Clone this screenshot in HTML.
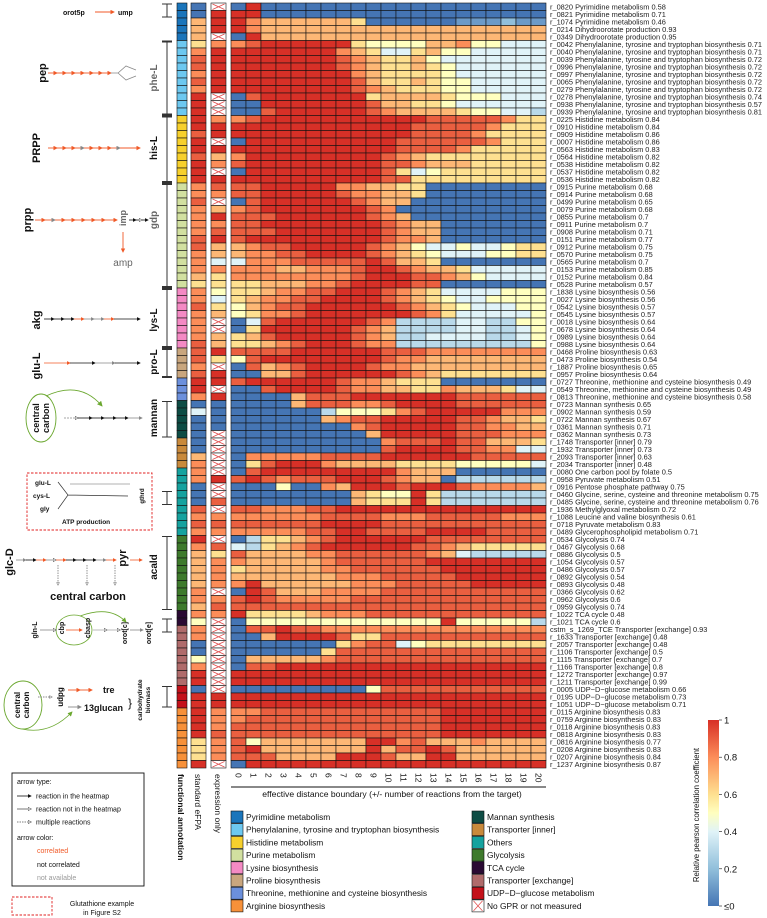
<!DOCTYPE html>
<html><head><meta charset="utf-8">
<style>
html,body{margin:0;padding:0;background:#fff;}
svg{display:block;font-family:"Liberation Sans",Arial,sans-serif;}
</style></head>
<body>
<svg id="fig" width="767" height="918" viewBox="0 0 767 918" xmlns="http://www.w3.org/2000/svg">
<defs>
<marker id="ao" markerWidth="5" markerHeight="5" refX="4" refY="2.5" orient="auto"><path d="M0,0 L5,2.5 L0,5 z" fill="#f05a28"/></marker>
<marker id="ak" markerWidth="5" markerHeight="5" refX="4" refY="2.5" orient="auto"><path d="M0,0 L5,2.5 L0,5 z" fill="#111"/></marker>
<marker id="ag" markerWidth="5" markerHeight="5" refX="4" refY="2.5" orient="auto"><path d="M0,0 L5,2.5 L0,5 z" fill="#888"/></marker>
<marker id="aw" markerWidth="5" markerHeight="5" refX="4" refY="2.5" orient="auto"><path d="M0.5,0.5 L4.5,2.5 L0.5,4.5 z" fill="#fff" stroke="#555" stroke-width="0.7"/></marker>
<marker id="agr" markerWidth="6" markerHeight="6" refX="5" refY="3" orient="auto"><path d="M0,0 L6,3 L0,6 z" fill="#6aa72e"/></marker>
<linearGradient id="cbar" x1="0" y1="1" x2="0" y2="0">
<stop offset="0" stop-color="#4575b4"/><stop offset="0.2" stop-color="#91bfdb"/><stop offset="0.4" stop-color="#e0f3f8"/><stop offset="0.5" stop-color="#ffffbf"/><stop offset="0.6" stop-color="#fee090"/><stop offset="0.8" stop-color="#fc8d59"/><stop offset="1" stop-color="#d73027"/>
</linearGradient>
</defs>
<g id="left" font-weight="bold" fill="#111">
  <text x="63" y="15" font-size="7">orot5p</text>
  <line x1="95" y1="12" x2="114" y2="12" stroke="#f05a28" stroke-width="0.9" marker-end="url(#ao)"/>
  <text x="118" y="15" font-size="7">ump</text>
  <text transform="translate(46,73) rotate(-90)" text-anchor="middle" font-size="11">pep</text>
  <g stroke="#f05a28" stroke-width="0.9"><line x1="48" y1="73" x2="57" y2="73" marker-end="url(#ao)"/><line x1="57" y1="73" x2="66" y2="73" marker-end="url(#ao)"/><line x1="66" y1="73" x2="75" y2="73" marker-end="url(#ao)"/><line x1="75" y1="73" x2="84" y2="73" marker-end="url(#ao)"/><line x1="84" y1="73" x2="93" y2="73" marker-end="url(#ao)"/><line x1="93" y1="73" x2="102" y2="73" marker-end="url(#ao)"/><line x1="102" y1="73" x2="111" y2="73" marker-end="url(#ao)"/></g>
  <path d="M111,73 L118,73 L126,66 L136,70 M118,73 L126,80 L136,76" fill="none" stroke="#888" stroke-width="0.8"/>
  <text transform="translate(157,78) rotate(-90)" text-anchor="middle" font-size="10" fill="#666">phe-L</text>
  <text transform="translate(40,148) rotate(-90)" text-anchor="middle" font-size="11">PRPP</text>
  <g stroke="#f05a28" stroke-width="0.9"><line x1="48" y1="148" x2="57" y2="148" marker-end="url(#ao)"/><line x1="57" y1="148" x2="66" y2="148" marker-end="url(#ao)"/><line x1="66" y1="148" x2="75" y2="148" marker-end="url(#ao)"/><line x1="75" y1="148" x2="84" y2="148" marker-end="url(#ag)"/><line x1="84" y1="148" x2="93" y2="148" marker-end="url(#ao)"/><line x1="93" y1="148" x2="102" y2="148" marker-end="url(#ao)"/><line x1="102" y1="148" x2="111" y2="148" marker-end="url(#ao)"/><line x1="111" y1="148" x2="120" y2="148" marker-end="url(#ag)"/><line x1="120" y1="148" x2="140" y2="148" marker-end="url(#ao)"/></g>
  <text transform="translate(157,148) rotate(-90)" text-anchor="middle" font-size="10">his-L</text>
  <text transform="translate(31,220) rotate(-90)" text-anchor="middle" font-size="11">prpp</text>
  <g stroke="#f05a28" stroke-width="0.9"><line x1="35" y1="220" x2="45" y2="220" marker-end="url(#ao)"/><line x1="45" y1="220" x2="55" y2="220" marker-end="url(#ag)"/><line x1="55" y1="220" x2="65" y2="220" marker-end="url(#ao)"/><line x1="65" y1="220" x2="75" y2="220" marker-end="url(#ao)"/><line x1="75" y1="220" x2="85" y2="220" marker-end="url(#ao)"/><line x1="85" y1="220" x2="95" y2="220" marker-end="url(#ao)"/><line x1="95" y1="220" x2="105" y2="220" marker-end="url(#ao)"/><line x1="105" y1="220" x2="117" y2="220" marker-end="url(#ao)"/><line x1="123" y1="232" x2="123" y2="252" marker-end="url(#ao)"/></g>
  <text transform="translate(126,218) rotate(-90)" text-anchor="middle" font-size="9" fill="#666">imp</text>
  <g stroke="#111" stroke-width="0.8"><line x1="129" y1="220" x2="136" y2="220" marker-end="url(#ak)"/><line x1="136" y1="220" x2="142" y2="220" marker-end="url(#aw)"/><line x1="142" y1="220" x2="148" y2="220" marker-end="url(#ak)"/></g>
  <text transform="translate(157,220) rotate(-90)" text-anchor="middle" font-size="10" fill="#666">gdp</text>
  <text x="123" y="266" text-anchor="middle" font-size="10" fill="#666" font-weight="normal">amp</text>
  <text transform="translate(40,320) rotate(-90)" text-anchor="middle" font-size="11">akg</text>
  <g stroke="#111" stroke-width="0.8"><line x1="44" y1="319" x2="54" y2="319" marker-end="url(#ak)"/><line x1="54" y1="319" x2="64" y2="319" marker-end="url(#ak)"/><line x1="64" y1="319" x2="74" y2="319" marker-end="url(#ak)"/><line x1="74" y1="319" x2="84" y2="319" stroke="#f05a28" marker-end="url(#ao)"/><line x1="84" y1="319" x2="94" y2="319" stroke="#888" marker-end="url(#ag)"/><line x1="94" y1="319" x2="104" y2="319" stroke="#888" marker-end="url(#ag)"/><line x1="104" y1="319" x2="114" y2="319" stroke="#f05a28" marker-end="url(#ao)"/><line x1="114" y1="319" x2="140" y2="319" marker-end="url(#ak)"/></g>
  <text transform="translate(157,320) rotate(-90)" text-anchor="middle" font-size="10">lys-L</text>
  <text transform="translate(40,366) rotate(-90)" text-anchor="middle" font-size="11">glu-L</text>
  <g stroke-width="0.8"><line x1="44" y1="363" x2="70" y2="363" stroke="#f05a28" marker-end="url(#ao)"/><line x1="70" y1="363" x2="95" y2="363" stroke="#111" marker-end="url(#ak)"/><line x1="95" y1="363" x2="115" y2="363" stroke="#888" marker-end="url(#ag)"/><line x1="115" y1="363" x2="140" y2="363" stroke="#111" marker-end="url(#ak)"/></g>
  <text transform="translate(157,362) rotate(-90)" text-anchor="middle" font-size="10">pro-L</text>
  <ellipse cx="41" cy="418" rx="15" ry="24" fill="none" stroke="#6aa72e" stroke-width="0.9"/>
  <text transform="translate(39,418) rotate(-90)" text-anchor="middle" font-size="9">central</text>
  <text transform="translate(49,418) rotate(-90)" text-anchor="middle" font-size="9">carbon</text>
  <path d="M46,396 Q80,380 102,406" fill="none" stroke="#6aa72e" stroke-width="0.9" marker-end="url(#agr)"/>
  <g stroke-width="0.8"><line x1="64" y1="418" x2="78" y2="418" stroke="#888" stroke-dasharray="2 1" marker-end="url(#aw)"/><line x1="78" y1="418" x2="92" y2="418" stroke="#111" marker-end="url(#ak)"/><line x1="92" y1="418" x2="104" y2="418" stroke="#111" marker-end="url(#ak)"/><line x1="104" y1="418" x2="116" y2="418" stroke="#111" marker-end="url(#ak)"/><line x1="116" y1="418" x2="128" y2="418" stroke="#111" marker-end="url(#ak)"/><line x1="128" y1="418" x2="142" y2="418" stroke="#888" marker-end="url(#ag)"/></g>
  <text transform="translate(157,418) rotate(-90)" text-anchor="middle" font-size="10">mannan</text>
  <rect x="27" y="473" width="125" height="57" fill="none" stroke="#e02020" stroke-width="0.9" stroke-dasharray="2.5 1.5"/>
  <text x="35" y="485" font-size="6.5">glu-L</text>
  <text x="33" y="498" font-size="6.5">cys-L</text>
  <text x="40" y="511" font-size="6.5">gly</text>
  <path d="M58,482 L68,495 L58,509 M68,495 L128,496" fill="none" stroke="#333" stroke-width="0.7"/>
  <line x1="130" y1="484" x2="70" y2="484" stroke="#999" stroke-width="0.7"/>
  <text x="62" y="524" font-size="6.5">ATP production</text>
  <text transform="translate(144,496) rotate(-90)" text-anchor="middle" font-size="6">gthrd</text>
  <text transform="translate(13,562) rotate(-90)" text-anchor="middle" font-size="11">glc-D</text>
  <g stroke-width="0.8"><line x1="16" y1="560" x2="26" y2="560" stroke="#888" marker-end="url(#ag)"/><line x1="26" y1="560" x2="36" y2="560" stroke="#111" marker-end="url(#ak)"/><line x1="36" y1="560" x2="46" y2="560" stroke="#f05a28" marker-end="url(#ao)"/><line x1="46" y1="560" x2="56" y2="560" stroke="#888" marker-end="url(#aw)"/><line x1="56" y1="560" x2="66" y2="560" stroke="#f05a28" marker-end="url(#ao)"/><line x1="66" y1="560" x2="76" y2="560" stroke="#111" marker-end="url(#ak)"/><line x1="76" y1="560" x2="86" y2="560" stroke="#111" marker-end="url(#ak)"/><line x1="86" y1="560" x2="96" y2="560" stroke="#111" marker-end="url(#ak)"/><line x1="96" y1="560" x2="106" y2="560" stroke="#888" marker-end="url(#ag)"/><line x1="106" y1="560" x2="116" y2="560" stroke="#f05a28" marker-end="url(#ao)"/><line x1="130" y1="560" x2="142" y2="560" stroke="#f05a28" marker-end="url(#ao)"/></g>
  <g stroke="#666" stroke-width="0.7" stroke-dasharray="1.5 1"><line x1="58" y1="565" x2="58" y2="585" marker-end="url(#aw)"/><line x1="87" y1="565" x2="87" y2="585" marker-end="url(#aw)"/><line x1="115" y1="565" x2="115" y2="585" marker-end="url(#aw)"/></g>
  <text transform="translate(126,558) rotate(-90)" text-anchor="middle" font-size="11">pyr</text>
  <text transform="translate(157,567) rotate(-90)" text-anchor="middle" font-size="10">acald</text>
  <text x="88" y="600" text-anchor="middle" font-size="11">central carbon</text>
  <text transform="translate(37,630) rotate(-90)" text-anchor="middle" font-size="7">gln-L</text>
  <ellipse cx="74" cy="630" rx="18" ry="15" fill="none" stroke="#6aa72e" stroke-width="0.8"/>
  <text transform="translate(64,628) rotate(-90)" text-anchor="middle" font-size="7">cbp</text>
  <text transform="translate(90,628) rotate(-90)" text-anchor="middle" font-size="7">cbasp</text>
  <text transform="translate(127,633) rotate(-90)" text-anchor="middle" font-size="7">orot[c]</text>
  <text transform="translate(151,633) rotate(-90)" text-anchor="middle" font-size="7">orot[e]</text>
  <g stroke-width="0.8"><line x1="40" y1="630" x2="56" y2="630" stroke="#888" marker-end="url(#aw)"/><line x1="66" y1="630" x2="82" y2="630" stroke="#f05a28" marker-end="url(#ao)"/><line x1="93" y1="630" x2="107" y2="630" stroke="#aaa" marker-end="url(#aw)"/><line x1="107" y1="630" x2="120" y2="630" stroke="#aaa" marker-end="url(#aw)"/><line x1="130" y1="630" x2="143" y2="630" stroke="#888" marker-end="url(#ag)"/></g>
  <path d="M80,616 Q110,605 126,622" fill="none" stroke="#6aa72e" stroke-width="0.8" marker-end="url(#agr)"/>
  <ellipse cx="23" cy="705" rx="19" ry="24" fill="none" stroke="#6aa72e" stroke-width="0.9"/>
  <text transform="translate(20,705) rotate(-90)" text-anchor="middle" font-size="8">central</text>
  <text transform="translate(29,705) rotate(-90)" text-anchor="middle" font-size="8">carbon</text>
  <line x1="38" y1="697" x2="52" y2="697" stroke="#666" stroke-width="0.7" stroke-dasharray="1.5 1" marker-end="url(#aw)"/>
  <text transform="translate(63,697) rotate(-90)" text-anchor="middle" font-size="8">udpg</text>
  <g stroke="#f05a28" stroke-width="0.9"><line x1="68" y1="690" x2="80" y2="690" marker-end="url(#ao)"/><line x1="80" y1="690" x2="92" y2="690" marker-end="url(#ao)"/></g>
  <line x1="68" y1="707" x2="81" y2="707" stroke="#888" stroke-width="0.9" marker-end="url(#ag)"/>
  <text x="103" y="693" font-size="9">tre</text>
  <text x="84" y="711" font-size="9">13glucan</text>
  <text x="128" y="707" font-size="12" font-weight="normal">}</text>
  <path d="M22,729 Q50,735 72,712" fill="none" stroke="#6aa72e" stroke-width="0.8" marker-end="url(#agr)"/>
  <text transform="translate(142,700) rotate(-90)" text-anchor="middle" font-size="6.5">carbohydrate</text>
  <text transform="translate(150,700) rotate(-90)" text-anchor="middle" font-size="6.5">biomass</text>
</g>
<g id="brackets" stroke="#333" stroke-width="1"></g>
<g id="strips"></g>
<g id="heat"></g>
<g id="rowlabels" font-size="7.4" fill="#222"></g>
<g id="xaxis"></g>
<g id="legend"></g>
<g font-size="7" fill="#111">
  <rect x="12" y="773" width="132" height="113" fill="none" stroke="#111" stroke-width="0.9"/>
  <text x="17" y="784">arrow type:</text>
  <line x1="17" y1="796" x2="31" y2="796" stroke="#111" stroke-width="0.8" marker-end="url(#ak)"/><text x="36" y="798.5">reaction in the heatmap</text>
  <line x1="17" y1="809" x2="31" y2="809" stroke="#555" stroke-width="0.8" marker-end="url(#aw)"/><text x="36" y="811.5">reaction not in the heatmap</text>
  <line x1="17" y1="822" x2="31" y2="822" stroke="#555" stroke-width="0.8" stroke-dasharray="1.5 1" marker-end="url(#aw)"/><text x="36" y="824.5">multiple reactions</text>
  <text x="17" y="840">arrow color:</text>
  <text x="37" y="853" fill="#f05a28">correlated</text>
  <text x="37" y="867">not correlated</text>
  <text x="37" y="880" fill="#999">not available</text>
  <rect x="12" y="897" width="40" height="18" fill="none" stroke="#e02020" stroke-width="0.9" stroke-dasharray="2.5 1.5"/>
  <text x="102" y="906" text-anchor="middle">Glutathione example</text>
  <text x="102" y="915" text-anchor="middle">in Figure S2</text>
</g>
<text transform="translate(178,774) rotate(90)" font-size="8.5" font-weight="bold" fill="#111">functional annotation</text>
<text transform="translate(195,774) rotate(90)" font-size="8.5" fill="#111">standard eFPA</text>
<text transform="translate(215,774) rotate(90)" font-size="8.5" fill="#111">expression only</text>
<g>
  <rect x="708" y="720" width="11" height="186" fill="url(#cbar)"/>
  <g id="cbticks" font-size="9.5" fill="#111"></g>
  <text transform="translate(699,815) rotate(-90)" text-anchor="middle" font-size="7.8" fill="#111">Relative pearson correlation coefficient</text>
</g>
</svg>
<script>
const columns = [0,1,2,3,4,5,6,7,8,9,10,11,12,13,14,15,16,17,18,19,20];
const rowLabels = ["r_0820 Pyrimidine metabolism 0.58","r_0821 Pyrimidine metabolism 0.71","r_1074 Pyrimidine metabolism 0.46","r_0214 Dihydroorotate production 0.93","r_0349 Dihydroorotate production 0.95",
"r_0042 Phenylalanine, tyrosine and tryptophan biosynthesis 0.71","r_0040 Phenylalanine, tyrosine and tryptophan biosynthesis 0.71","r_0039 Phenylalanine, tyrosine and tryptophan biosynthesis 0.72","r_0996 Phenylalanine, tyrosine and tryptophan biosynthesis 0.72","r_0997 Phenylalanine, tyrosine and tryptophan biosynthesis 0.72","r_0065 Phenylalanine, tyrosine and tryptophan biosynthesis 0.72","r_0279 Phenylalanine, tyrosine and tryptophan biosynthesis 0.72","r_0278 Phenylalanine, tyrosine and tryptophan biosynthesis 0.74","r_0938 Phenylalanine, tyrosine and tryptophan biosynthesis 0.57","r_0939 Phenylalanine, tyrosine and tryptophan biosynthesis 0.81",
"r_0225 Histidine metabolism 0.84","r_0910 Histidine metabolism 0.84","r_0909 Histidine metabolism 0.86","r_0007 Histidine metabolism 0.86","r_0563 Histidine metabolism 0.83","r_0564 Histidine metabolism 0.82","r_0538 Histidine metabolism 0.82","r_0537 Histidine metabolism 0.82","r_0536 Histidine metabolism 0.82",
"r_0915 Purine metabolism 0.68","r_0914 Purine metabolism 0.68","r_0499 Purine metabolism 0.65","r_0079 Purine metabolism 0.68","r_0855 Purine metabolism 0.7","r_0911 Purine metabolism 0.7","r_0908 Purine metabolism 0.71","r_0151 Purine metabolism 0.77","r_0912 Purine metabolism 0.75","r_0570 Purine metabolism 0.75","r_0565 Purine metabolism 0.7","r_0153 Purine metabolism 0.85","r_0152 Purine metabolism 0.84","r_0528 Purine metabolism 0.57",
"r_1838 Lysine biosynthesis 0.56","r_0027 Lysine biosynthesis 0.56","r_0542 Lysine biosynthesis 0.57","r_0545 Lysine biosynthesis 0.57","r_0018 Lysine biosynthesis 0.64","r_0678 Lysine biosynthesis 0.64","r_0989 Lysine biosynthesis 0.64","r_0988 Lysine biosynthesis 0.64",
"r_0468 Proline biosynthesis 0.63","r_0473 Proline biosynthesis 0.54","r_1887 Proline biosynthesis 0.65","r_0957 Proline biosynthesis 0.64",
"r_0727 Threonine, methionine and cysteine biosynthesis 0.49","r_0549 Threonine, methionine and cysteine biosynthesis 0.49","r_0813 Threonine, methionine and cysteine biosynthesis 0.58",
"r_0723 Mannan synthesis 0.65","r_0902 Mannan synthesis 0.59","r_0722 Mannan synthesis 0.67","r_0361 Mannan synthesis 0.71","r_0362 Mannan synthesis 0.73",
"r_1748 Transporter [inner] 0.79","r_1932 Transporter [inner] 0.73","r_2093 Transporter [inner] 0.63","r_2034 Transporter [inner] 0.48",
"r_0080 One carbon pool by folate 0.5","r_0958 Pyruvate metabolism 0.51","r_0916 Pentose phosphate pathway 0.75","r_0460 Glycine, serine, cysteine and threonine metabolism 0.75","r_0485 Glycine, serine, cysteine and threonine metabolism 0.76","r_1936 Methylglyoxal metabolism 0.72","r_1088 Leucine and valine biosynthesis 0.61","r_0718 Pyruvate metabolism 0.83","r_0489 Glycerophospholipid metabolism 0.71",
"r_0534 Glycolysis 0.74","r_0467 Glycolysis 0.68","r_0886 Glycolysis 0.5","r_1054 Glycolysis 0.57","r_0486 Glycolysis 0.57","r_0892 Glycolysis 0.54","r_0893 Glycolysis 0.48","r_0366 Glycolysis 0.62","r_0962 Glycolysis 0.6","r_0959 Glycolysis 0.74",
"r_1022 TCA cycle 0.48","r_1021 TCA cycle 0.6",
"cstm_s_1269_TCE Transporter [exchange] 0.93","r_1633 Transporter [exchange] 0.48","r_2057 Transporter [exchange] 0.48","r_1106 Transporter [exchange] 0.5","r_1115 Transporter [exchange] 0.7","r_1166 Transporter [exchange] 0.8","r_1272 Transporter [exchange] 0.97","r_1211 Transporter [exchange] 0.99",
"r_0005 UDP\u2212D\u2212glucose metabolism 0.66","r_0195 UDP\u2212D\u2212glucose metabolism 0.73","r_1051 UDP\u2212D\u2212glucose metabolism 0.71",
"r_0115 Arginine biosynthesis 0.83","r_0759 Arginine biosynthesis 0.83","r_0118 Arginine biosynthesis 0.83","r_0818 Arginine biosynthesis 0.83","r_0816 Arginine biosynthesis 0.77","r_0208 Arginine biosynthesis 0.83","r_0207 Arginine biosynthesis 0.84","r_1237 Arginine biosynthesis 0.87"];
const categories = ["Pyrimidine metabolism","Phenylalanine, tyrosine and tryptophan biosynthesis","Histidine metabolism","Purine metabolism","Lysine biosynthesis","Proline biosynthesis","Threonine, methionine and cysteine biosynthesis","Arginine biosynthesis","Mannan synthesis","Transporter [inner]","Others","Glycolysis","TCA cycle","Transporter [exchange]","UDP\u2212D\u2212glucose metabolism"];
const categoryColors = ["#1a75bb","#6dc8f0","#f7d02c","#d2e0a0","#f48ac4","#c9a67e","#6c90dc","#f7913a","#0e4c44","#c98a3c","#15a29f","#3e7a2c","#2a0a33","#b06b6b","#c4111a"];
const rowCategory = [0,0,0,0,0, 1,1,1,1,1,1,1,1,1,1, 2,2,2,2,2,2,2,2,2, 3,3,3,3,3,3,3,3,3,3,3,3,3,3, 4,4,4,4,4,4,4,4, 5,5,5,5, 6,6,6, 8,8,8,8,8, 9,9,9,9, 10,10,10,10,10,10,10,10,10, 11,11,11,11,11,11,11,11,11,11, 12,12, 13,13,13,13,13,13,13,13, 14,14,14, 7,7,7,7,7,7,7,7];
const heat = [
[0,10,0,0,0,0,0,0,0,0,0,0,0,0,0,0,0,0,0,0,0],
[10,10,0,0,0,0,0,0,0,0,0,0,0,0,0,0,0,0,0,0,0],
[10,8,7,7,7,7,7,7,6,0,0,0,0,0,0,1,1,1,2,1,1],
[10,8,7,7,7,7,7,7,7,7,7,7,7,7,7,7,7,7,7,7,7],
[0,10,7,7,7,7,7,7,7,7,7,7,7,7,7,7,7,7,7,7,7],
[8,9,10,10,10,10,10,10,6,5,5,5,5,7,7,8,5,5,4,4,4],
[10,10,10,10,10,10,10,8,7,6,4,4,6,7,5,5,4,4,4,4,4],
[10,10,10,10,10,10,10,9,8,7,6,6,7,5,4,4,4,4,4,4,4],
[10,10,10,10,10,10,10,9,8,7,6,6,7,6,5,4,4,4,4,4,4],
[10,10,10,10,10,10,10,10,8,7,6,6,6,6,5,4,4,4,4,4,4],
[10,10,10,10,10,10,10,10,9,7,6,6,7,6,5,5,4,4,4,4,4],
[10,10,10,10,10,10,10,10,9,8,7,6,6,6,5,5,4,4,4,4,4],
[0,9,10,10,10,10,10,10,10,6,7,7,7,7,6,5,5,5,4,4,4],
[0,0,10,10,10,10,10,10,10,9,7,7,6,6,5,4,4,4,4,4,4],
[0,0,9,10,10,10,10,10,10,9,8,7,7,7,7,6,5,5,4,4,3],
[8,9,10,10,10,10,10,10,10,10,10,10,10,9,9,9,9,9,8,6,6],
[10,10,10,10,10,10,10,10,10,10,10,10,9,9,9,9,9,8,6,6,6],
[10,10,10,10,10,10,10,10,10,10,10,10,9,9,9,9,8,6,6,6,6],
[0,10,10,10,10,10,10,10,10,10,10,9,9,9,9,9,9,8,6,6,6],
[10,10,10,10,10,10,10,10,10,10,10,9,9,9,9,8,6,6,6,6,6],
[8,10,10,10,10,10,10,10,10,10,9,8,7,6,6,6,6,6,6,6,6],
[9,10,10,10,10,10,10,10,10,10,9,9,8,7,7,7,6,6,6,6,6],
[0,10,10,10,10,10,10,10,10,10,9,6,4,5,6,6,6,6,6,6,6],
[10,10,10,10,10,10,10,10,10,10,9,9,6,6,6,6,6,6,6,6,6],
[9,9,10,10,10,10,10,8,8,7,7,6,6,0,0,0,0,0,0,0,0],
[9,9,10,10,10,10,10,9,8,8,7,7,6,0,0,0,0,0,0,0,0],
[0,9,10,10,10,10,10,10,9,8,7,7,0,0,0,0,0,0,0,0,0],
[8,9,10,10,10,10,10,10,10,9,8,0,0,0,0,0,0,0,0,0,0],
[9,9,9,10,10,10,10,10,10,9,8,7,0,0,0,0,0,0,0,0,0],
[9,9,10,10,10,10,10,10,10,10,9,8,7,7,0,0,0,0,0,0,0],
[9,9,9,10,10,10,10,10,10,10,9,8,7,7,0,0,0,0,0,0,0],
[9,10,10,10,10,10,10,10,10,10,9,8,8,7,0,0,0,0,0,0,0],
[7,8,9,9,10,10,10,10,10,9,8,7,5,4,4,5,4,4,5,6,6],
[7,8,8,9,9,10,10,10,10,9,8,7,6,5,4,4,4,5,5,6,6],
[4,8,8,8,9,9,9,9,9,10,9,7,7,6,0,0,0,0,0,0,0],
[8,8,8,7,7,8,8,8,9,10,10,9,8,7,7,6,4,4,4,4,4],
[8,8,8,8,8,8,8,8,9,10,10,10,9,9,8,7,5,4,4,4,4],
[6,6,7,7,7,8,8,9,10,10,10,10,9,9,0,0,0,0,0,0,0],
[6,6,7,8,8,9,9,10,10,10,9,8,7,6,4,4,4,4,5,5,5],
[6,7,8,8,9,9,10,10,10,10,9,8,7,6,5,4,4,5,5,5,5],
[5,7,8,9,9,10,10,10,10,10,10,9,8,7,6,5,4,4,4,5,5],
[5,6,8,8,9,10,10,10,10,10,10,10,9,8,6,4,4,4,4,4,5],
[0,4,9,10,10,10,10,10,10,9,8,3,3,3,3,4,4,3,3,5,5],
[0,6,10,10,10,10,10,10,9,8,7,3,3,3,3,4,4,3,3,4,5],
[6,7,9,10,10,10,10,10,9,8,7,3,3,4,4,4,4,3,3,4,5],
[6,6,7,8,9,10,10,10,9,8,8,3,3,3,3,3,3,3,3,3,5],
[9,9,9,9,10,10,10,10,10,10,9,9,9,8,8,8,8,8,8,8,8],
[5,9,10,10,10,10,10,10,10,10,9,8,8,7,7,7,7,7,7,7,7],
[0,9,7,8,9,10,10,10,10,9,8,8,7,7,7,7,7,7,7,7,7],
[0,0,7,7,9,10,10,10,10,10,10,9,8,7,6,6,6,6,6,6,6],
[9,10,10,10,10,10,10,9,8,8,7,6,6,6,0,0,0,0,0,0,0],
[0,0,9,10,10,10,10,9,8,8,7,7,6,6,8,7,7,7,6,4,4],
[0,0,0,0,7,9,9,9,10,10,10,10,10,10,10,9,9,9,9,9,9],
[0,0,0,0,7,9,9,9,8,8,9,10,10,10,10,9,9,9,9,9,9],
[0,0,0,0,0,0,3,5,5,5,6,8,9,10,10,10,10,10,8,8,8],
[0,0,0,0,0,0,7,8,9,9,10,10,10,10,10,9,9,8,7,7,6],
[0,0,0,0,0,0,0,0,8,9,10,10,10,10,10,9,9,8,8,7,7],
[0,0,0,0,0,0,0,0,0,7,10,10,10,10,10,9,9,9,8,8,8],
[0,0,0,0,0,0,0,0,0,0,8,9,9,9,10,9,9,7,7,7,6],
[0,0,0,0,0,0,0,0,0,0,9,10,10,10,10,9,9,8,8,4,4],
[0,8,8,8,8,8,9,9,9,9,10,10,10,10,10,10,9,9,9,9,9],
[0,6,9,10,10,10,8,7,7,7,7,6,6,6,6,5,5,5,5,5,4],
[0,9,10,10,10,10,10,10,10,10,10,8,7,7,7,0,0,0,0,0,0],
[9,10,9,8,9,9,9,10,10,10,9,8,7,7,0,3,3,3,3,3,3],
[0,0,0,5,0,0,8,7,10,10,10,9,10,10,10,9,8,8,8,8,7],
[0,0,0,0,0,0,0,0,7,6,5,5,10,6,3,3,3,3,3,3,3],
[0,0,0,0,0,0,0,0,7,6,6,6,10,6,3,3,3,3,3,3,3],
[9,9,8,8,8,9,9,10,10,10,10,10,10,10,10,10,10,10,10,10,10],
[8,8,8,8,8,8,9,9,9,9,8,8,8,9,9,9,9,9,8,8,8],
[9,9,9,9,9,9,10,10,10,10,9,9,9,9,9,9,9,9,9,9,9],
[8,8,8,8,8,9,9,10,10,9,9,9,9,10,10,10,10,9,9,9,9],
[0,3,6,6,7,8,9,10,10,10,10,10,10,9,9,9,9,9,9,9,9],
[4,3,6,7,8,9,10,10,10,10,10,10,9,9,8,7,6,6,6,6,6],
[9,7,7,7,7,8,8,9,9,9,9,9,9,8,7,4,3,3,3,3,3],
[8,7,7,7,7,7,8,9,9,9,9,9,9,10,10,10,10,10,10,10,10],
[6,7,7,7,7,7,8,8,9,9,9,9,9,9,10,10,10,10,10,10,10],
[7,7,7,7,7,7,7,8,8,8,9,9,9,9,9,10,10,10,10,10,10],
[8,10,7,7,7,7,7,7,8,8,8,9,9,9,9,9,10,10,10,10,10],
[0,10,9,7,7,7,8,8,8,8,9,9,9,9,9,9,9,9,9,9,9],
[9,10,9,8,8,8,8,8,9,9,9,9,9,9,9,9,9,9,9,9,9],
[9,9,9,9,9,9,9,9,9,9,9,9,9,9,9,9,9,9,9,9,9],
[10,6,6,6,6,7,8,8,8,9,9,9,9,9,9,9,9,9,9,9,9],
[0,5,5,5,5,5,5,5,5,5,5,5,5,5,10,5,5,5,5,5,3],
[0,9,9,10,9,9,8,8,8,8,8,8,8,8,8,8,8,8,8,8,8],
[0,0,7,10,10,10,10,9,6,6,9,9,9,9,9,9,9,9,9,9,9],
[0,0,0,0,0,0,0,6,8,9,9,4,5,6,6,6,6,6,6,6,6],
[0,0,0,0,0,0,6,9,9,9,9,9,9,9,9,9,9,9,9,9,9],
[0,7,7,7,7,7,8,9,9,9,9,9,9,9,9,9,9,9,9,9,9],
[0,9,9,10,10,10,10,10,10,10,10,10,10,10,10,10,10,10,10,10,10],
[10,10,10,10,10,10,10,10,10,10,10,10,10,10,10,10,10,10,10,10,10],
[10,10,10,10,10,10,10,10,10,10,10,10,10,10,10,10,10,10,10,10,10],
[0,0,0,0,0,0,0,0,0,5,9,9,9,9,9,9,9,9,9,9,9],
[10,10,10,10,10,10,10,10,10,10,10,10,10,10,10,10,10,10,10,10,10],
[10,10,10,10,10,10,10,10,10,10,10,10,10,10,10,10,10,10,10,10,10],
[8,8,9,9,9,9,9,9,9,9,9,9,9,9,10,10,10,10,10,10,10],
[8,9,9,9,9,9,9,9,9,9,9,9,9,9,10,10,10,10,10,10,10],
[9,9,9,9,9,9,9,9,9,9,9,9,9,9,10,10,10,10,10,10,10],
[9,9,9,9,9,9,9,9,9,9,9,9,9,9,10,10,10,10,10,10,10],
[9,5,7,7,7,7,7,7,7,10,10,8,9,7,7,7,8,7,7,7,7],
[9,10,7,7,7,7,7,7,7,10,7,9,9,10,9,7,7,7,7,7,7],
[9,9,9,7,7,7,7,10,10,10,9,7,7,10,10,7,7,7,7,7,7],
[0,10,10,10,10,10,10,10,10,10,10,10,10,10,10,10,10,10,10,10,10]];
const efpa = [0,0,7,7,7,6,8,9,9,8,9,8,10,10,10, 10,10,9,10,10,9,10,10,10, 8,8,9,8,8,8,8,9,9,8,8,8,7,6, 8,8,9,8,8,8,8,9, 9,9,8,9, 10,10,8, 0,4,0,0,0, 0,0,7,8, 8,8,0,0,0,9,8,9,8, 10,8,7,7,7,7,7,8,8,7, 8,5, 8,8,0,0,5,8,10,10, 0,10,10, 10,10,10,10,6,6,6,10];
const exprOnly = [-1,10,10,10,-1,8,10,10,10,10,10,10,-1,-1,-1, 8,10,10,-1,10,7,8,-1,10, 9,8,-1,7,10,8,9,10,7,7,4,8,6,6, 5,4,6,7,-1,-1,7,7, 10,6,-1,10, 10,-1,10, 0,0,0,0,-1, -1,-1,-1,-1, -1,10,-1,-1,9,-1,8,9,8, -1,9,6,8,8,8,8,-1,8,9, 8,-1, -1,-1,-1,-1,-1,-1,-1,-1, -1,10,10, 8,8,8,9,8,8,8,-1];
const brackets = [[0,1,"cap"],[5,14,"tick"],[15,23,"tick"],[24,37,"tick"],[38,45,"tick"],[46,49,"tick"],[53,57,"cap"],[65,66,"cap"],[71,80,"cap"],[82,83,"cap"],[91,93,"cap"]];
const cbTicks = ["\u22640","0.2","0.4","0.6","0.8","1"];
const cbValues = [0,0.2,0.4,0.6,0.8,1];

const NS="http://www.w3.org/2000/svg";
const X0=231, CW=315/21, Y0=3, RH=7.5;
function xs(c){return X0+c*CW;}
function ys(r){return Y0+r*RH;}
const stops=[[0,[69,117,180]],[0.2,[145,191,219]],[0.4,[224,243,248]],[0.5,[255,255,191]],[0.6,[254,224,144]],[0.8,[252,141,89]],[1,[215,48,39]]];
function color(v){v=Math.max(0,Math.min(1,v));for(let i=1;i<stops.length;i++){if(v<=stops[i][0]){const a=stops[i-1],b=stops[i];const t=(v-a[0])/(b[0]-a[0]);const c=a[1].map((x,k)=>Math.round(x+(b[1][k]-x)*t));return "rgb("+c.join(",")+")";}}return "rgb(215,48,39)";}
function mk(tag,attrs,parent){const e=document.createElementNS(NS,tag);for(const k in attrs)e.setAttribute(k,attrs[k]);parent.appendChild(e);return e;}

const heatG=document.getElementById('heat');
heat.forEach((row,r)=>{row.forEach((v,c)=>{
  const e=mk('rect',{x:xs(c),y:ys(r),width:CW,height:RH,fill:color(v/10),stroke:'#111','stroke-width':0.6},heatG);
  
  
});});

const strips=document.getElementById('strips');
function xMark(x,y,w,h,g){
  const e=mk('rect',{x:x,y:y,width:w,height:h,fill:'#fff',stroke:'#111','stroke-width':0.6},g);
  
  
  mk('path',{d:`M${x+1.5},${y+1} L${x+w-1.5},${y+h-1} M${x+w-1.5},${y+1} L${x+1.5},${y+h-1}`,stroke:'#e04848','stroke-width':0.7,fill:'none'},g);
}
rowCategory.forEach((cat,r)=>{
  const e=mk('rect',{x:177,y:ys(r),width:10,height:RH,fill:categoryColors[cat],stroke:'#111','stroke-width':0.6},strips);
  
  
});
efpa.forEach((v,r)=>{
  const e=mk('rect',{x:191,y:ys(r),width:15,height:RH,fill:color(v/10),stroke:'#111','stroke-width':0.6},strips);
  
  
});
exprOnly.forEach((v,r)=>{
  if(v<0){xMark(211,ys(r),15,RH,strips);return;}
  const e=mk('rect',{x:211,y:ys(r),width:15,height:RH,fill:color(v/10),stroke:'#111','stroke-width':0.6},strips);
  
  
});

const rl=document.getElementById('rowlabels');
rowLabels.forEach((t,r)=>{
  const e=mk('text',{x:550,y:ys(r)+RH/2+2.6},rl);
  e.textContent=t;
  
  
});

const br=document.getElementById('brackets');
brackets.forEach(b=>{
  const yA=ys(b[0])+1, yB=ys(b[1]+1)-1;
  mk('line',{x1:167,y1:yA,x2:167,y2:yB},br);
  if(b[2]==='cap'){mk('line',{x1:162,y1:yA,x2:172,y2:yA},br);mk('line',{x1:162,y1:yB,x2:172,y2:yB},br);}
  else{mk('line',{x1:162,y1:yA,x2:172,y2:yA,'stroke-width':2},br);mk('line',{x1:162,y1:yB,x2:172,y2:yB,'stroke-width':2},br);}
});

const xa=document.getElementById('xaxis');
columns.forEach((c,i)=>{
  const e=mk('text',{transform:`translate(${xs(i)+CW/2-3},773) rotate(90)`,'font-size':8.5,fill:'#111'},xa);
  e.textContent=c;
  
  
});
mk('line',{x1:231,y1:787,x2:546,y2:787,stroke:'#111','stroke-width':0.9},xa);
const xt=mk('text',{x:392,y:797,'text-anchor':'middle','font-size':8.6,fill:'#111'},xa);
xt.textContent='effective distance boundary (+/- number of reactions from the target)';



const lg=document.getElementById('legend');
const legendOrder=[0,1,2,3,4,5,6,7,8,9,10,11,12,13,14];
legendOrder.forEach((ci,i)=>{
  const col=i<8?0:1, row=i<8?i:i-8;
  const x=col?472:231, y=811+row*12.7;
  const e=mk('rect',{x:x,y:y,width:12,height:12,fill:categoryColors[ci],stroke:'#111','stroke-width':0.6},lg);
  
  
  const t=mk('text',{x:x+15,y:y+9,'font-size':8.4,fill:'#111'},lg);
  t.textContent=categories[ci];
  
  
});
xMark(472,811+7*12.7,12,12,lg);
const nt=mk('text',{x:487,y:811+7*12.7+9,'font-size':8.4,fill:'#111'},lg);
nt.textContent='No GPR or not measured';



const cbt=document.getElementById('cbticks');
cbValues.forEach((v,i)=>{
  const y=906-v*186;
  mk('line',{x1:719,y1:y,x2:722,y2:y,stroke:'#111','stroke-width':0.6},cbt);
  const t=mk('text',{x:724,y:y+3.5},cbt);
  t.textContent=cbTicks[i];
  
  
});
</script>
</body></html>
